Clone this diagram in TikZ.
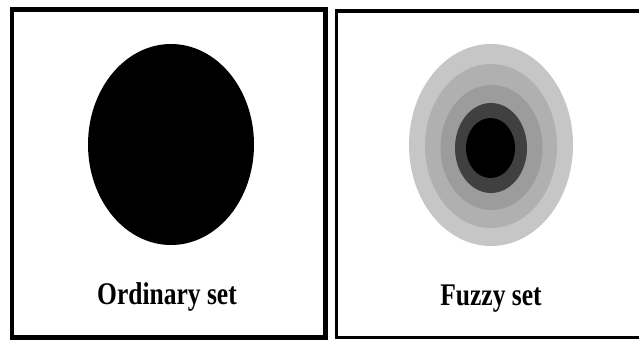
\documentclass[tikz,border=0pt]{standalone}
\usepackage{fontspec}
\setmainfont{Liberation Serif}
\begin{document}
\begin{tikzpicture}[x=1pt,y=-1pt,
  frame/.style={draw=black,line width=4.5pt},
  lbl/.style={font=\fontsize{31.5}{32}\selectfont\bfseries,xscale=0.81,anchor=base,inner sep=0pt}]
\useasboundingbox[fill=white] (0,0) rectangle (639,341);
% left box
\draw[frame] (12,9.5) rectangle (325.5,337.5);
% right box (runs off the right edge)
\draw[frame,line width=3.5pt] (645,11) -- (336.5,11) -- (336.5,337.5) -- (645,337.5);
% ordinary set
\fill[black] (171,144.5) ellipse [x radius=83,y radius=100.5];
% fuzzy set
\fill[gray!45!white] (491,145) ellipse [x radius=82,y radius=101];
\fill[gray!62!white] (491,146) ellipse [x radius=66,y radius=82];
\fill[gray!78!white] (491.5,147.5) ellipse [x radius=51,y radius=62.5];
\fill[black!75] (491,148) ellipse [x radius=36,y radius=45];
\fill[black] (490.5,148) ellipse [x radius=24.5,y radius=30];
\node[lbl] (ord) at (167,304) {Ordinary set};
\node[lbl] (fuz) at (491,305) {Fuzzy set};
\end{tikzpicture}
\end{document}
